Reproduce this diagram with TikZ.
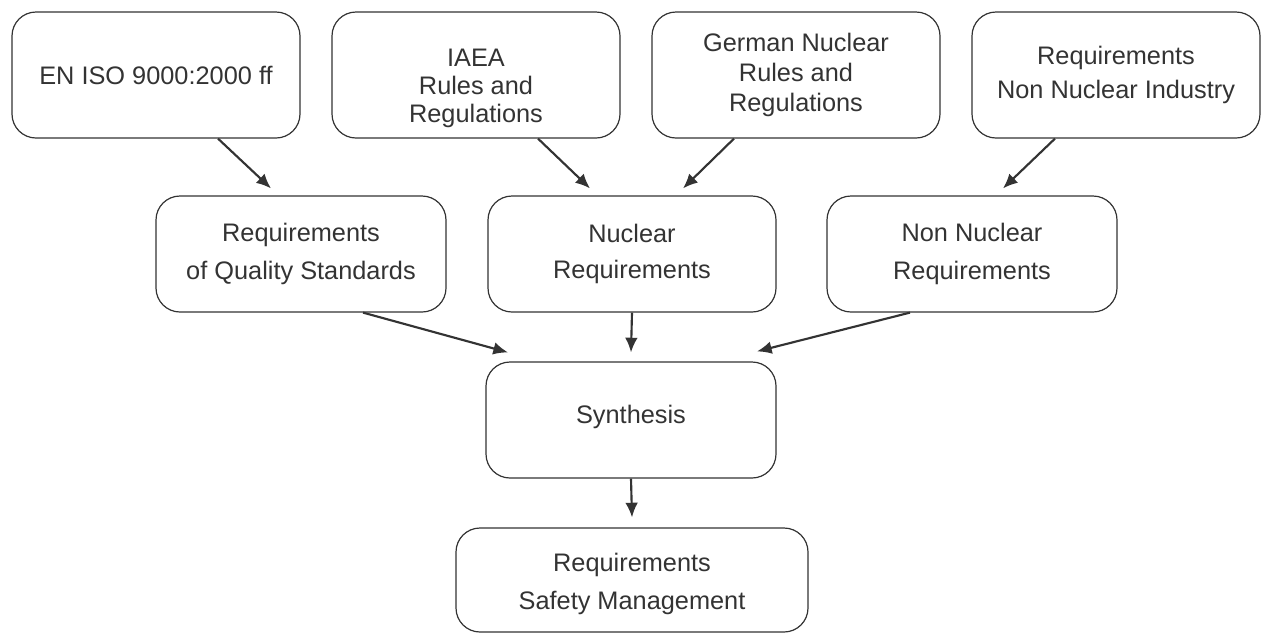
\documentclass[tikz,border=0pt]{standalone}
\usepackage{fontspec}
\setmainfont{Liberation Sans}
\usetikzlibrary{arrows.meta,calc}
\definecolor{ink}{HTML}{333333}
\tikzset{
  box/.style={draw=ink,line width=0.9pt,rounded corners=18pt,align=center,
    text=ink,inner sep=0pt,minimum width=216pt,minimum height=94.5pt},
  link/.style={draw=ink,line width=1.6pt,-{Latex[length=11pt,width=9.5pt]}},
  lead/.style={font=\fontsize{19}{#1}\selectfont},
}
\begin{document}
\begin{tikzpicture}[x=0.75pt,y=-0.75pt]
        \useasboundingbox (0,0) rectangle (1261,637);
        % sources
        \node[box,lead=22] (iso) at (156,75) {EN ISO 9000:2000 ff};
        \node[box] (iaea) at (476,75) {};
        \node[lead=21,text=ink,align=center,inner sep=0pt] (iaeatext) at (476,88) {IAEA\\Rules and\\Regulations};
        \node[box,lead=22.5] (german) at (796,75) {German Nuclear\\Rules and\\Regulations};
        \node[box,lead=25.5] (industry) at (1116,75) {Requirements\\Non Nuclear Industry};
        % requirements
        \node[box,lead=29,minimum width=217.5pt,minimum height=87pt] (quality) at (301,254) {Requirements\\of Quality Standards};
        \node[box,lead=27,minimum height=87pt] (nuclear) at (632,254) {Nuclear\\Requirements};
        \node[box,lead=28.5,minimum width=217.5pt,minimum height=87pt] (nonnuclear) at (972,254) {Non Nuclear\\Requirements};
        % synthesis
        \node[box,lead=22,minimum width=217.5pt,minimum height=87pt] (synthesis) at (631,420) {Synthesis\\[-13pt]};
        \node[box,minimum width=264pt,minimum height=78pt] (safety) at (632,580) {};
        \node[lead=28.5,text=ink,align=center,inner sep=0pt] (safetytext) at (632,584) {Requirements\\Safety Management};
        % arrows
        \draw[link] ($(iso.south)+(62,0)$) -- ($(quality.north)+(-30,-7)$);
        \draw[link] ($(iaea.south)+(62,0)$) -- ($(nuclear.north)+(-42,-7)$);
        \draw[link] ($(german.south)+(-62,0)$) -- ($(nuclear.north)+(51,-7)$);
        \draw[link] ($(industry.south)+(-61,0)$) -- ($(nonnuclear.north)+(31,-7)$);
        \draw[link] ($(quality.south)+(62,0)$) -- ($(synthesis.north)+(-123,-9)$);
        \draw[link] (nuclear.south) -- ($(synthesis.north)+(0,-9)$);
        \draw[link] ($(nonnuclear.south)+(-62,0)$) -- ($(synthesis.north)+(126,-10)$);
        \draw[link] (synthesis.south) -- ($(safety.north)+(0,-10)$);
\end{tikzpicture}
\end{document}
